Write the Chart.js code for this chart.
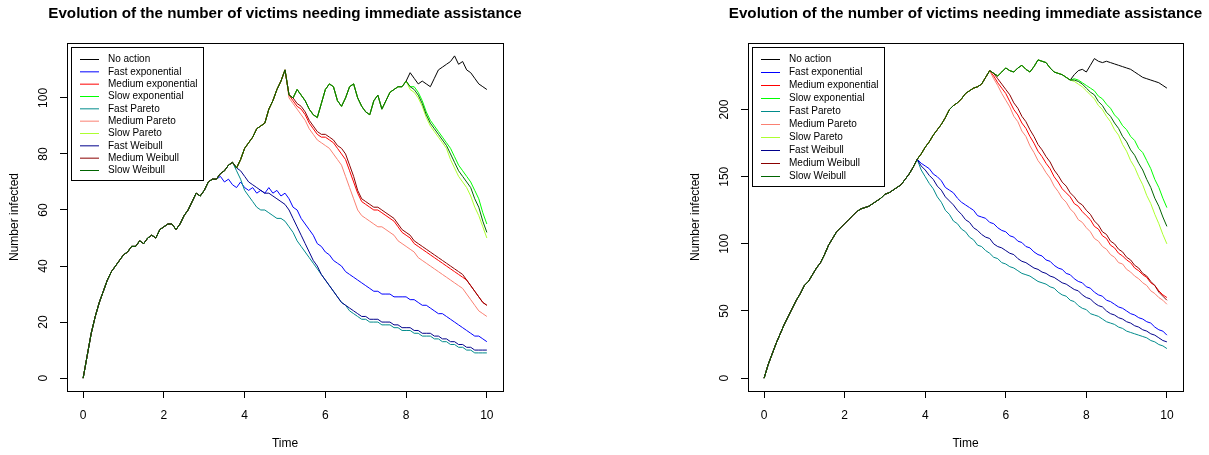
<!DOCTYPE html>
<html>
<head>
<meta charset="utf-8">
<script src="https://cdn.jsdelivr.net/npm/chart.js@4.4.1/dist/chart.umd.min.js"></script>
<style>
  html, body { margin: 0; padding: 0; background: #fff; }
  #wrap { position: relative; width: 1209px; height: 455px; }
  #left { position: absolute; left: 0; top: 0; }
  #right { position: absolute; left: 604px; top: 0; }
</style>
</head>
<body>
<div id="wrap">
  <canvas id="left" width="604" height="455"></canvas>
  <canvas id="right" width="605" height="455"></canvas>
</div>
<script>
// time grid shared by every series
const timeGrid = [
  0, 0.1, 0.2, 0.3, 0.4, 0.5, 0.6, 0.7, 0.8, 0.9,
  1, 1.1, 1.2, 1.3, 1.4, 1.5, 1.6, 1.7, 1.8, 1.9,
  2, 2.1, 2.2, 2.3, 2.4, 2.5, 2.6, 2.7, 2.8, 2.9,
  3, 3.1, 3.2, 3.3, 3.4, 3.5, 3.6, 3.7, 3.8, 3.9,
  4, 4.1, 4.2, 4.3, 4.4, 4.5, 4.6, 4.7, 4.8, 4.9,
  5, 5.1, 5.2, 5.3, 5.4, 5.5, 5.6, 5.7, 5.8, 5.9,
  6, 6.1, 6.2, 6.3, 6.4, 6.5, 6.6, 6.7, 6.8, 6.9,
  7, 7.1, 7.2, 7.3, 7.4, 7.5, 7.6, 7.7, 7.8, 7.9,
  8, 8.1, 8.2, 8.3, 8.4, 8.5, 8.6, 8.7, 8.8, 8.9,
  9, 9.1, 9.2, 9.3, 9.4, 9.5, 9.6, 9.7, 9.8, 9.9,
  10
];

const chartTitle = 'Evolution of the number of victims needing immediate assistance';
const seriesNames = ['No action', 'Fast exponential', 'Medium exponential', 'Slow exponential',
  'Fast Pareto', 'Medium Pareto', 'Slow Pareto', 'Fast Weibull', 'Medium Weibull', 'Slow Weibull'];
const seriesColors = ['#000000', '#0000ff', '#ff0000', '#00ff00', '#008b8b',
  '#fa8072', '#adff2f', '#00008b', '#8b0000', '#006400'];

const xTicks = [0, 2, 4, 6, 8, 10];
const leftYTicks = [0, 20, 40, 60, 80, 100];
const rightYTicks = [0, 50, 100, 150, 200];

// ---- left panel ----
const leftNoAction = [
  0, 8, 16, 22, 27, 31, 35, 38, 40, 42,
  44, 45, 47, 47, 49, 48, 50, 51, 50, 53,
  54, 55, 55, 53, 55, 58, 60, 63, 66, 65,
  67, 70, 71, 71, 73, 74, 76, 77, 75, 78,
  82, 84, 86, 89, 90, 91, 96, 99, 103, 106,
  110, 101, 100, 103, 101, 99, 96, 94, 93, 98,
  103, 105, 104, 99, 97, 100, 104, 105, 100, 97,
  95, 94, 99, 101, 96, 99, 102, 103, 104, 104,
  106, 109, 107, 105, 106, 105, 104, 107, 110, 111,
  112, 113, 115, 112, 113, 110, 109, 107, 105, 104,
  103
];
// tails start where each intervention leaves the common path
const leftFastStart = [3.4, 3.7, 3.7];   // exp, Pareto, Weibull
const leftMediumStart = 5.1;
const leftSlowStart = 8.1;
const leftFastExp = [
  72, 70, 71, 69, 68, 70,
  68, 67, 68, 66, 67, 66, 68, 66, 67, 65,
  66, 64, 61, 60, 57, 55, 53, 51, 48, 47,
  45, 44, 42, 41, 40, 38, 37, 36, 35, 34,
  33, 32, 31, 31, 30, 30, 30, 29, 29, 29,
  29, 28, 28, 27, 26, 26, 25, 24, 23, 23,
  22, 21, 20, 19, 18, 17, 16, 15, 15, 14,
  13
];
const leftFastPareto = [
  77, 74, 71,
  67, 65, 63, 61, 60, 60, 59, 58, 57, 57,
  56, 54, 52, 49, 47, 45, 43, 41, 39, 37,
  35, 33, 31, 29, 27, 26, 24, 23, 22, 21,
  21, 20, 20, 20, 19, 19, 19, 18, 18, 17,
  17, 17, 16, 16, 15, 15, 15, 14, 14, 13,
  13, 12, 12, 11, 11, 10, 10, 9, 9, 9,
  9
];
const leftFastWeibull = [
  77, 75, 74,
  72, 70, 69, 68, 67, 66, 66, 65, 64, 63,
  62, 60, 57, 54, 51, 48, 45, 42, 40, 37,
  35, 33, 31, 29, 27, 26, 25, 24, 23, 22,
  22, 21, 21, 21, 20, 20, 20, 19, 19, 18,
  18, 18, 17, 17, 16, 16, 16, 15, 15, 14,
  14, 13, 13, 12, 12, 11, 11, 10, 10, 10,
  10
];
const leftMediumExp = [
  101, 99, 97, 96, 94, 91, 89, 87, 86,
  86, 85, 84, 82, 80, 78, 74, 70, 66, 63,
  62, 61, 60, 60, 59, 58, 57, 56, 54, 52,
  51, 50, 48, 47, 46, 45, 44, 43, 42, 41,
  40, 39, 38, 37, 36, 35, 33, 31, 29, 27,
  26
];
const leftMediumPareto = [
  100, 98, 96, 94, 92, 89, 87, 85, 84,
  83, 82, 80, 78, 76, 72, 68, 64, 60, 58,
  57, 56, 55, 54, 54, 53, 52, 51, 49, 48,
  47, 46, 45, 43, 42, 41, 40, 39, 38, 37,
  36, 35, 34, 33, 32, 30, 28, 26, 24, 23,
  22
];
const leftMediumWeibull = [
  101, 100, 98, 97, 95, 92, 90, 88, 87,
  87, 86, 85, 83, 82, 80, 76, 72, 67, 64,
  63, 62, 61, 61, 60, 59, 58, 57, 55, 53,
  52, 51, 49, 48, 47, 46, 45, 44, 43, 42,
  41, 40, 39, 38, 37, 35, 33, 31, 29, 27,
  26
];
const leftSlowExp = [
  104, 104, 102, 99, 95, 92, 90, 88, 86,
  84, 82, 79, 76, 74, 72, 70, 67, 64, 59,
  55
];
const leftSlowPareto = [
  103, 102, 100, 97, 93, 90, 88, 86, 84,
  82, 78, 75, 72, 70, 68, 65, 61, 58, 54,
  50
];
const leftSlowWeibull = [
  104, 103, 101, 98, 94, 91, 89, 87, 85,
  83, 80, 77, 74, 72, 70, 68, 64, 61, 56,
  52
];

// ---- right panel ----
const rightNoAction = [
  0, 10, 18, 26, 33, 40, 46, 52, 58, 63,
  69, 72, 77, 82, 86, 92, 99, 104, 109, 112,
  115, 118, 121, 124, 126, 127, 128, 130, 132, 134,
  137, 138, 140, 142, 144, 148, 152, 157, 163, 167,
  172, 176, 181, 185, 189, 194, 200, 203, 205, 208,
  212, 214, 216, 217, 219, 224, 229, 227, 225, 228,
  231, 229, 228, 231, 233, 230, 228, 232, 237, 236,
  235, 231, 228, 227, 226, 224, 222, 226, 229, 230,
  228, 233, 238, 236, 235, 236, 235, 234, 233, 232,
  231, 230, 228, 226, 224, 223, 222, 221, 220, 218,
  216
];
const rightFastStart = [3.9, 3.9, 3.9];
const rightMediumStart = 5.7;
const rightSlowStart = 7.6;
const rightFastExp = [
  160,
  158, 156, 152, 150, 147, 142, 140, 138, 134, 131,
  129, 127, 125, 121, 120, 119, 116, 115, 112, 110,
  109, 106, 105, 102, 101, 98, 97, 94, 92, 91,
  88, 87, 84, 82, 81, 78, 77, 74, 72, 71,
  68, 67, 64, 62, 61, 58, 57, 55, 53, 52,
  50, 48, 47, 45, 44, 42, 41, 38, 36, 35,
  32
];
const rightFastPareto = [
  155,
  150, 145, 141, 135, 131, 125, 122, 117, 115, 111,
  109, 105, 103, 99, 98, 95, 93, 90, 89, 86,
  85, 83, 82, 80, 78, 77, 76, 74, 72, 71,
  70, 68, 67, 64, 62, 61, 58, 57, 54, 52,
  51, 48, 47, 46, 44, 42, 41, 40, 38, 37,
  35, 34, 33, 32, 31, 30, 28, 27, 25, 24,
  22
];
const rightFastWeibull = [
  158,
  155, 151, 148, 143, 140, 135, 132, 129, 125, 122,
  118, 116, 112, 110, 107, 105, 104, 100, 98, 97,
  95, 93, 92, 89, 87, 86, 84, 82, 81, 79,
  78, 76, 75, 73, 71, 70, 68, 66, 65, 62,
  60, 59, 56, 54, 53, 50, 48, 47, 45, 44,
  42, 41, 39, 38, 36, 35, 33, 32, 30, 28,
  27
];
const rightMediumExp = [
  225, 220, 216,
  212, 206, 200, 196, 190, 186, 180, 175, 169, 165,
  160, 156, 150, 146, 141, 138, 135, 130, 128, 124,
  121, 118, 113, 111, 106, 104, 99, 97, 93, 91,
  88, 86, 82, 80, 77, 75, 71, 69, 65, 62,
  60
];
const rightMediumPareto = [
  223, 218, 212,
  207, 202, 195, 191, 184, 180, 173, 168, 162, 158,
  153, 149, 143, 139, 134, 131, 126, 123, 118, 116,
  112, 109, 104, 102, 98, 96, 92, 90, 86, 85,
  81, 79, 76, 74, 71, 69, 65, 63, 60, 58,
  55
];
const rightMediumWeibull = [
  227, 223, 219,
  215, 211, 205, 201, 195, 191, 185, 180, 174, 170,
  165, 161, 155, 151, 146, 143, 138, 135, 131, 129,
  125, 122, 117, 114, 109, 107, 102, 100, 96, 94,
  90, 88, 84, 82, 78, 76, 72, 69, 64, 61,
  58
];
const rightSlowExp = [
  222, 223, 222, 220,
  218, 216, 214, 210, 208, 204, 201, 196, 193, 188,
  185, 180, 177, 171, 168, 162, 156, 148, 142, 134,
  127
];
const rightSlowPareto = [
  222, 221, 219, 217,
  214, 211, 208, 203, 200, 195, 191, 185, 181, 174,
  169, 162, 157, 150, 144, 136, 130, 122, 115, 107,
  100
];
const rightSlowWeibull = [
  222, 222, 221, 219,
  216, 213, 211, 206, 203, 198, 195, 190, 186, 180,
  176, 170, 166, 160, 155, 148, 142, 134, 128, 120,
  113
];

Chart.defaults.font.family = '"Liberation Sans", Arial, Helvetica, sans-serif';
Chart.defaults.color = '#000';

// common path up to the start time, then the intervention's own values
function buildPoints(base, start, tail) {
  let vals = base;
  if (tail) {
    const k = timeGrid.indexOf(start);
    vals = base.slice(0, k).concat(tail);
  }
  return vals.map((v, i) => ({ x: timeGrid[i], y: v }));
}

function makeDatasets(base, fastStart, medStart, slowStart, tails) {
  const starts = [null, fastStart[0], medStart, slowStart, fastStart[1], medStart, slowStart, fastStart[2], medStart, slowStart];
  return seriesNames.map((name, i) => ({
    label: name,
    data: buildPoints(base, starts[i], tails[i]),
    borderColor: seriesColors[i],
    backgroundColor: seriesColors[i],
    borderWidth: 1,
    pointRadius: 0,
    tension: 0,
    fill: false,
    order: seriesNames.length - i
  }));
}

// R-style frame, title centred on the plot region, and legend in the top-left corner
const boxPlugin = {
  id: 'rbox',
  afterDraw(chart) {
    const { ctx, chartArea: a } = chart;
    const legendH = chart.options.plugins.rbox.legendHeight;
    ctx.save();
    ctx.strokeStyle = '#000';
    ctx.lineWidth = 1;
    ctx.strokeRect(Math.round(a.left) + 0.5, Math.round(a.top) + 0.5,
      Math.round(a.right - a.left), Math.round(a.bottom - a.top));

    ctx.fillStyle = '#000';
    ctx.font = 'bold 15.2px "Liberation Sans", Arial, sans-serif';
    ctx.textAlign = 'center';
    ctx.textBaseline = 'middle';
    ctx.fillText(chartTitle, (a.left + a.right) / 2, 13.5);

    const x0 = Math.round(a.left) + 4, y0 = Math.round(a.top) + 4;
    ctx.strokeRect(x0 + 0.5, y0 + 0.5, 132, legendH);
    ctx.font = '10px "Liberation Sans", Arial, sans-serif';
    ctx.textAlign = 'left';
    const rowH = (legendH - 22) / 9;
    chart.data.datasets.forEach((ds, i) => {
      const y = y0 + 12.5 + i * rowH;
      ctx.strokeStyle = ds.borderColor;
      ctx.beginPath();
      ctx.moveTo(x0 + 9, y);
      ctx.lineTo(x0 + 28, y);
      ctx.stroke();
      ctx.fillStyle = '#000';
      ctx.fillText(ds.label, x0 + 37, y);
    });
    ctx.restore();
  }
};

function makeChart(el, datasets, yMin, yMax, yTicks, padLeft, padRight, legendH) {
  return new Chart(document.getElementById(el), {
    type: 'line',
    data: { datasets: datasets },
    plugins: [boxPlugin],
    options: {
      responsive: false,
      animation: false,
      layout: { padding: { left: padLeft, right: padRight, top: 43, bottom: 0 } },
      plugins: {
        legend: { display: false },
        tooltip: { enabled: false },
        title: { display: false },
        rbox: { legendHeight: legendH }
      },
      scales: {
        x: {
          type: 'linear',
          min: -0.4,
          max: 10.4,
          afterBuildTicks: s => { s.ticks = xTicks.map(v => ({ value: v })); },
          afterFit: s => { s.height = 64; },
          border: { display: false },
          grid: { drawOnChartArea: false, drawTicks: true, tickLength: 7, color: '#000' },
          ticks: { font: { size: 12 }, padding: 10, maxRotation: 0, autoSkip: false },
          title: { display: true, text: 'Time', font: { size: 12 }, padding: { top: 0, bottom: 3.8 } }
        },
        y: {
          type: 'linear',
          min: yMin,
          max: yMax,
          afterBuildTicks: s => { s.ticks = yTicks.map(v => ({ value: v })); },
          afterFit: s => { s.width = 67; },
          border: { display: false },
          grid: { drawOnChartArea: false, drawTicks: true, tickLength: 7, color: '#000' },
          ticks: { font: { size: 12 }, padding: 6, minRotation: 90, maxRotation: 90, crossAlign: 'center', autoSkip: false },
          title: { display: true, text: 'Number infected', font: { size: 12 }, padding: { top: 7.8, bottom: 0 } }
        }
      }
    }
  });
}

makeChart('left',
  makeDatasets(leftNoAction, leftFastStart, leftMediumStart, leftSlowStart,
    [null, leftFastExp, leftMediumExp, leftSlowExp, leftFastPareto, leftMediumPareto,
      leftSlowPareto, leftFastWeibull, leftMediumWeibull, leftSlowWeibull]),
  -4.6, 119.6, leftYTicks, 0, 101, 133);

makeChart('right',
  makeDatasets(rightNoAction, rightFastStart, rightMediumStart, rightSlowStart,
    [null, rightFastExp, rightMediumExp, rightSlowExp, rightFastPareto, rightMediumPareto,
      rightSlowPareto, rightFastWeibull, rightMediumWeibull, rightSlowWeibull]),
  -9.6, 249.6, rightYTicks, 77, 26, 139);
</script>
</body>
</html>
